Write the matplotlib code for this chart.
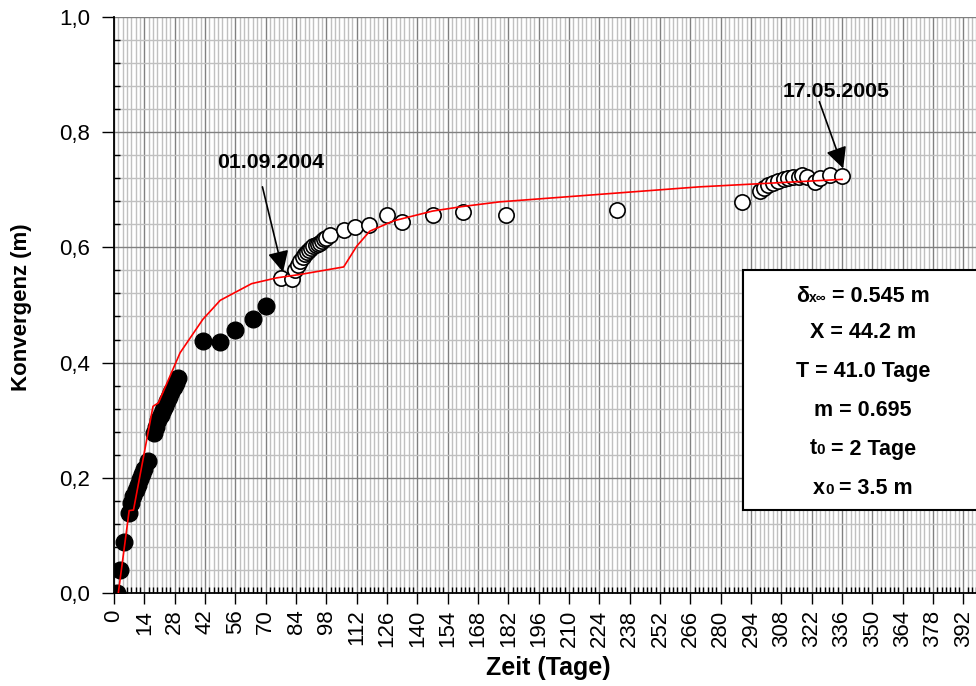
import matplotlib
matplotlib.use("Agg")
import matplotlib.pyplot as plt
from matplotlib.ticker import MultipleLocator, FixedLocator, FuncFormatter
from matplotlib.offsetbox import TextArea, HPacker, AnnotationBbox
from matplotlib.patches import Rectangle

plt.rcParams['font.family'] = ['Liberation Sans', 'DejaVu Sans']

# Messwerte vor dem 01.09.2004 (gefuellte Kreise)
tage_alt = [1.5, 2.8, 4.6, 7, 8, 9, 10, 11, 12, 13, 14, 15.5,
            18.5, 19.5, 20.5, 21.5, 22.5, 23.5, 24.5, 25.5, 26.5, 27.5, 28.5, 29.5,
            41, 49, 56, 64, 70]
konv_alt = [0.0, 0.04, 0.088, 0.138, 0.157, 0.168, 0.178, 0.188, 0.198, 0.207, 0.216, 0.229,
            0.277, 0.289, 0.300, 0.309, 0.317, 0.325, 0.333, 0.341, 0.349, 0.357, 0.365, 0.373,
            0.437, 0.436, 0.456, 0.476, 0.499]

# Messwerte ab dem 01.09.2004 (offene Kreise)
tage_neu = [77, 82, 83.5, 85, 86, 87, 88, 89, 90, 91, 92, 93, 94, 95, 96, 97, 98, 99.7,
            106.3, 111.2, 117.8, 125.8, 133, 147, 161, 181, 232, 290,
            298, 300, 302, 304, 306.5, 309, 311, 313.5, 316, 317.3, 319.6, 323.5, 325.8, 330.4, 336]
konv_neu = [0.547, 0.545, 0.560, 0.570, 0.577, 0.583, 0.588, 0.592, 0.596, 0.599, 0.602, 0.604,
            0.606, 0.608, 0.611, 0.614, 0.617, 0.621,
            0.630, 0.636, 0.638, 0.656, 0.644, 0.656, 0.662, 0.657, 0.664, 0.679,
            0.697, 0.703, 0.708, 0.712, 0.716, 0.719, 0.721, 0.722, 0.723, 0.725, 0.723, 0.714,
            0.720, 0.725, 0.724]

# Modellkurve
tage_modell = [2, 7, 9, 18, 20.5, 30.5, 41, 49, 63.5, 75, 86, 106, 112, 118, 129,
               147, 161, 178, 270, 336]
konv_modell = [0.0, 0.143, 0.144, 0.324, 0.330, 0.417, 0.475, 0.508, 0.537, 0.547, 0.553,
               0.566, 0.602, 0.628, 0.646, 0.663, 0.671, 0.679, 0.705, 0.718]

x_ticks = list(range(0, 393, 14))

parameter = [
    [("δ", 15.5), ("x∞", 10), (" = 0.545 m", 15.5)],
    [("X = 44.2 m", 15.5)],
    [("T = 41.0 Tage", 15.5)],
    [("m = 0.695", 15.5)],
    [("t", 15.5), ("0", 11), (" = 2 Tage", 15.5)],
    [("x", 15.5), ("0", 11), (" = 3.5 m", 15.5)],
]

fig = plt.figure(figsize=(9.76, 6.86), dpi=100)
ax = fig.add_axes([0.1168, 0.1356, 0.9325, 0.8397])

ax.plot(tage_alt, konv_alt, 'o', ms=12, mfc='black', mec='black', mew=1, zorder=3)
ax.plot(tage_neu, konv_neu, 'o', ms=11, mfc='white', mec='black', mew=1.2, zorder=3)
ax.plot(tage_modell, konv_modell, '-', color='red', lw=1.2, zorder=4)

ax.set_xlim(0, 420)
ax.set_ylim(0, 1.0)
ax.xaxis.set_major_locator(FixedLocator(x_ticks))
ax.xaxis.set_minor_locator(MultipleLocator(2))
ax.yaxis.set_major_locator(MultipleLocator(0.2))
ax.yaxis.set_minor_locator(MultipleLocator(0.04))
ax.yaxis.set_major_formatter(FuncFormatter(lambda v, p: f"{v:.1f}".replace('.', ',')))

ax.grid(which='minor', color='#c0c0c0', lw=1.0, zorder=0)
ax.grid(which='major', color='#808080', lw=1.0, zorder=0)
ax.set_axisbelow(True)

ax.tick_params(axis='x', which='major', direction='out', length=8, width=1, labelsize=16,
               labelrotation=90, pad=4)
ax.tick_params(axis='y', which='major', direction='out', length=9, width=1, labelsize=16, pad=8)
ax.tick_params(which='minor', direction='in', length=4, width=1)
for s in ['top', 'right']:
    ax.spines[s].set_visible(False)
for s in ['left', 'bottom']:
    ax.spines[s].set_linewidth(1.3)

fig.text(548 / 976, 1 - 668 / 686, "Zeit (Tage)", ha='center', va='center',
         fontsize=18, fontweight='bold')
fig.text(22 / 976, 1 - 307 / 686, "Konvergenz (m)", ha='center', va='center',
         rotation=90, fontsize=16, fontweight='bold')

# Beschriftungen mit Pfeilen
pfeil = dict(arrowstyle='-|>', mutation_scale=32, lw=1.2, color='black', shrinkA=0, shrinkB=0)
ax.annotate("01.09.2004", xy=(72.5, 0.747), ha='center', va='center',
            fontsize=15.3, fontweight='bold', zorder=6)
ax.annotate("", xy=(78, 0.557), xytext=(68.5, 0.705), arrowprops=pfeil, zorder=6)
ax.annotate("17.05.2005", xy=(333, 0.87), ha='center', va='center',
            fontsize=15.3, fontweight='bold', zorder=6)
ax.annotate("", xy=(336.5, 0.737), xytext=(325.5, 0.853), arrowprops=pfeil, zorder=6)

# Parameterkasten
kasten = Rectangle((290.3, 0.144), 200, 0.416, facecolor='white', edgecolor='black',
                   lw=1.5, zorder=7)
ax.add_patch(kasten)
zeilen_y = [296, 333, 372, 410, 449, 488]
for teile, ypx in zip(parameter, zeilen_y):
    boxen = [TextArea(t, textprops=dict(fontsize=fs, fontweight='bold')) for t, fs in teile]
    zeile = HPacker(children=boxen, align='baseline', pad=0, sep=0)
    ab = AnnotationBbox(zeile, (863, 686 - ypx), xycoords='figure pixels', frameon=False,
                        box_alignment=(0.5, 0.5), zorder=8)
    ax.add_artist(ab)

fig.savefig("out.png", dpi=100)
